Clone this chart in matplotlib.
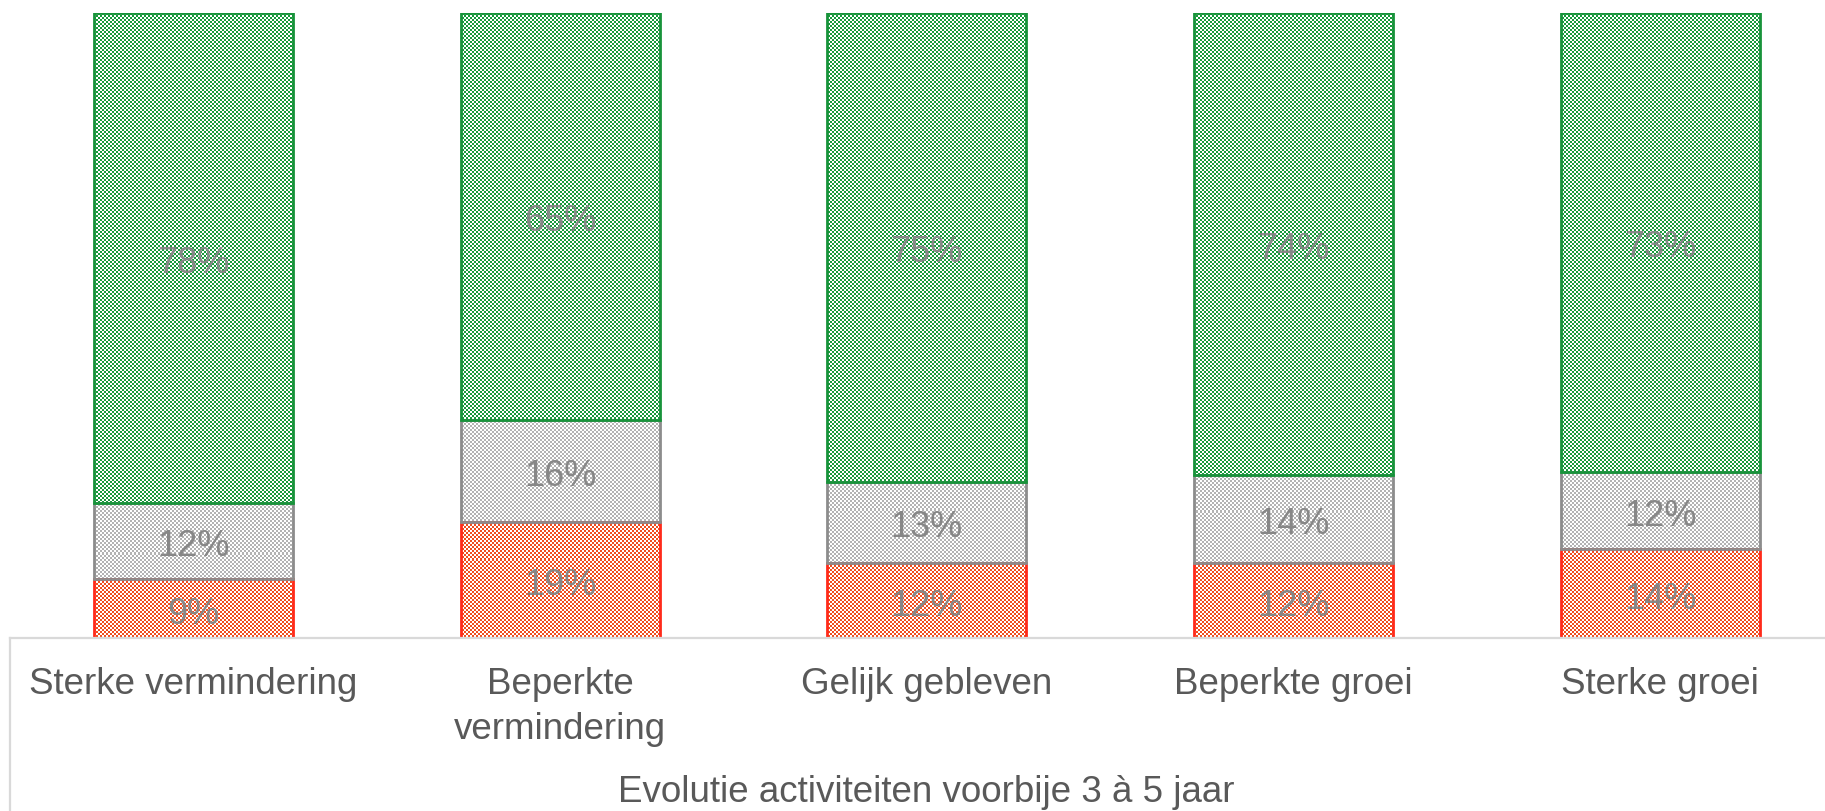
import numpy as np
import matplotlib
matplotlib.use("Agg")
import matplotlib.pyplot as plt
from matplotlib.lines import Line2D

plt.rcParams['font.family'] = ['Liberation Sans', 'DejaVu Sans']

categories = ["Sterke vermindering", "Beperkte\nvermindering", "Gelijk gebleven",
              "Beperkte groei", "Sterke groei"]
red_vals = [9.4, 18.6, 12.0, 12.0, 14.2]
gray_vals = [12.2, 16.3, 13.0, 14.1, 12.4]
green_vals = [78.4, 65.1, 75.0, 73.9, 73.4]
axis_title = "Evolutie activiteiten voorbije 3 à 5 jaar"

W, H = 1825, 811
fig = plt.figure(figsize=(W / 100, H / 100), dpi=100)
ax_l, ax_t, ax_r, ax_b = 10, 13, 1825, 638
ax = fig.add_axes([ax_l / W, (H - ax_b) / H, (ax_r - ax_l) / W, (ax_b - ax_t) / H])

step = 366.7
xlim = (-0.5, -0.5 + (ax_r - ax_l) / step)
ylim = (0, 100)
bw = 199 / step

x = np.arange(len(categories))
series = [
    (red_vals, np.zeros(len(x)), '#f04e1e', '#ff2a1a'),
    (gray_vals, np.array(red_vals), '#b3b3b3', '#8c8c8c'),
    (green_vals, np.array(red_vals) + np.array(gray_vals), '#17993a', '#17933a'),
]

# checker pattern array (2-px cells)
ny, nx = ax_b - ax_t, ax_r - ax_l
rr, cc = np.mgrid[0:ny, 0:nx]
mask = ((rr // 2 + cc // 2) % 2) == 0

def checker(hexcol):
    rgb = np.array(matplotlib.colors.to_rgb(hexcol))
    img = np.ones((ny, nx, 3))
    img[mask] = rgb
    return img

for vals, bottoms, fill, edge in series:
    img = checker(fill)
    bars = ax.bar(x, vals, bw, bottom=bottoms, facecolor='none', edgecolor=edge,
                  linewidth=2.0, zorder=3)
    for b in bars:
        im = ax.imshow(img, extent=(xlim[0], xlim[1], ylim[0], ylim[1]), origin='upper',
                       aspect='auto', interpolation='nearest', zorder=2)
        im.set_clip_path(b)
    for xi, v, bt in zip(x, vals, bottoms):
        ax.annotate(f"{round(v)}%", (xi, bt + v / 2), xytext=(0, -4),
                    textcoords='offset points', ha='center', va='center',
                    fontsize=26, color='#878787', zorder=4)

ax.set_xlim(*xlim)
ax.set_ylim(*ylim)
ax.set_yticks([])
ax.set_xticks(x)
ax.set_xticklabels(categories, fontsize=26.5, color='#595959', linespacing=1.38)
ax.tick_params(axis='x', length=0, pad=21)
for s in ['top', 'left', 'right']:
    ax.spines[s].set_visible(False)
ax.spines['bottom'].set_color('#d9d9d9')
ax.spines['bottom'].set_linewidth(1.6)
ax.spines['bottom'].set_zorder(5)

ax.text(2, (ax_b - 793) / (ax_b - ax_t), axis_title, transform=ax.get_xaxis_transform(),
        ha='center', va='center', fontsize=26.5, color='#595959')

fig.add_artist(Line2D([ax_l / W, ax_l / W], [0, (H - ax_b) / H], color='#d9d9d9',
                      linewidth=1.6, transform=fig.transFigure))

fig.savefig("out.png", dpi=100)
